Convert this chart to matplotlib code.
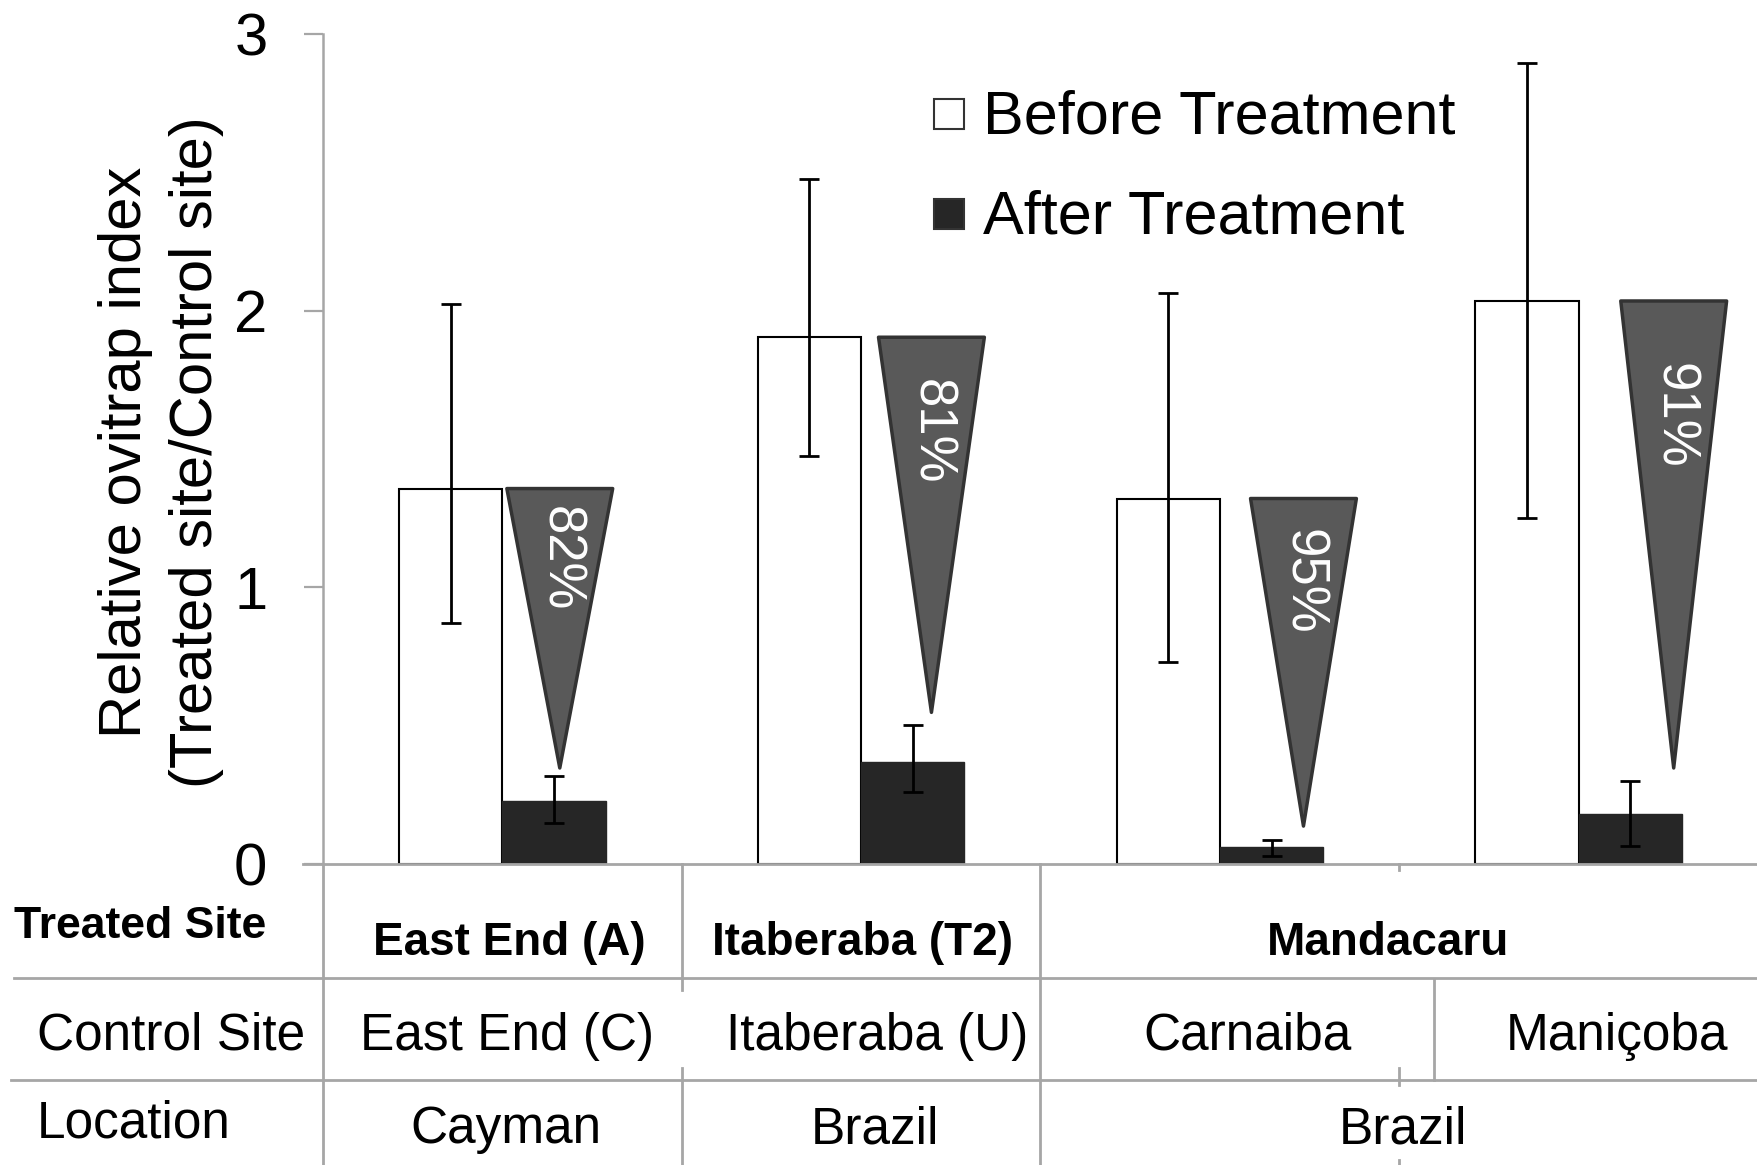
import matplotlib
matplotlib.use("Agg")
import matplotlib.pyplot as plt
from matplotlib.patches import Polygon, Rectangle
import numpy as np

plt.rcParams["font.family"] = ["Liberation Sans", "DejaVu Sans"]

# values
sites = ["East End (A)", "Itaberaba (T2)", "Mandacaru", "Mandacaru"]
before = [1.357, 1.904, 1.321, 2.035]
before_hi = [2.025, 2.476, 2.064, 2.896]
before_lo = [0.870, 1.474, 0.730, 1.250]
after = [0.229, 0.370, 0.060, 0.181]
after_hi = [0.318, 0.501, 0.087, 0.300]
after_lo = [0.149, 0.261, 0.029, 0.066]
reduction = ["82%", "81%", "95%", "91%"]

treated_labels = ["East End (A)", "Itaberaba (T2)", "Mandacaru"]
control_labels = ["East End (C)", "Itaberaba (U)", "Carnaiba", "Maniçoba"]
location_labels = ["Cayman", "Brazil", "Brazil"]
yticks = [0, 1, 2, 3]

# hand-placed triangle callouts (centre x, apex y, label y)
tri_x = [0.160, 1.196, 2.233, 3.265]
tri_apex = [0.347, 0.548, 0.137, 0.347]
tri_text_y = [1.102, 1.561, 1.019, 1.619]

W, H = 1758, 1165
fig = plt.figure(figsize=(W / 100, H / 100), dpi=100)
ax = fig.add_axes([323 / W, 1 - 864 / H, 1435 / W, 830 / H])

x = np.arange(len(before))
w = 0.288
grey = "#a6a6a6"

ax.bar(x - w / 2, before, w, color="white", edgecolor="black", linewidth=1.5, zorder=2)
ax.bar(x + w / 2, after, w, color="#262626", edgecolor="#262626", linewidth=1, zorder=2)

b_err = [np.array(before) - np.array(before_lo), np.array(before_hi) - np.array(before)]
a_err = [np.array(after) - np.array(after_lo), np.array(after_hi) - np.array(after)]
ax.errorbar(x - w / 2, before, yerr=b_err, fmt="none", ecolor="black",
            elinewidth=2, capsize=7, capthick=2, zorder=3)
ax.errorbar(x + w / 2, after, yerr=a_err, fmt="none", ecolor="black",
            elinewidth=2, capsize=7, capthick=2, zorder=3)

# reduction triangles
tw = 0.295
for i in range(len(before)):
    cx = tri_x[i]
    pts = [(cx - tw / 2, before[i]), (cx + tw / 2, before[i]), (cx, tri_apex[i])]
    ax.add_patch(Polygon(pts, closed=True, facecolor="#595959", edgecolor="#333333",
                         linewidth=2.5, joinstyle="round", zorder=4))
    ax.text(cx, tri_text_y[i], reduction[i], rotation=-90, ha="center", va="center",
            color="white", fontsize=38, zorder=5)

ax.set_xlim(-0.5, 3.5)
ax.set_ylim(0, 3)
ax.set_yticks(yticks)
ax.tick_params(axis="y", labelsize=43, length=14, width=1.6, color=grey, pad=26)
ax.set_xticks([])
for s in ["top", "right", "bottom"]:
    ax.spines[s].set_visible(False)
ax.spines["left"].set_color(grey)
ax.spines["left"].set_linewidth(1.8)

# x axis line, starting at the tick end
ax.plot([-0.014, 1.0], [0, 0], transform=ax.get_yaxis_transform(), color=grey,
        linewidth=2, clip_on=False, zorder=6)

# legend
for yb, fc, lab in [(0.8855, "white", "Before Treatment"), (0.7651, "#262626", "After Treatment")]:
    ax.add_patch(Rectangle((0.4258, yb), 0.0209, 0.0362, transform=ax.transAxes,
                           facecolor=fc, edgecolor="#333333", linewidth=1.5, zorder=6))
    ax.text(0.4599, yb - 0.005, lab, transform=ax.transAxes, fontsize=44,
            ha="left", va="baseline")

fig.text(161 / W, 1 - 452 / H, "Relative ovitrap index\n(Treated site/Control site)",
         rotation=90, ha="center", va="center", multialignment="center",
         fontsize=43, linespacing=1.36)

# table under the axis
tr = ax.get_xaxis_transform()


def ay(py):
    return (864 - py) / 830


def vline(xd, y0, y1):
    ax.plot([xd, xd], [ay(y0), ay(y1)], transform=tr, color=grey, linewidth=2,
            clip_on=False)


ax.plot([-1.36, 3.5], [ay(978), ay(978)], transform=tr, color=grey, linewidth=2, clip_on=False)
ax.plot([-1.37, 3.5], [ay(1080), ay(1080)], transform=tr, color=grey, linewidth=2, clip_on=False)
vline(-0.5, 864, 1165)
vline(0.5, 864, 990)
vline(0.5, 1068, 1165)
vline(1.5, 864, 1165)
vline(2.5, 864, 870)
vline(2.5, 1068, 1085)
vline(2.5, 1160, 1165)
vline(2.597, 979, 1080)

treated_x = [0.018, 1.005, 2.469]
control_x = [0.013, 1.044, 2.078, 3.107]
location_x = [0.01, 1.04, 2.51]

for xd, lab in zip(treated_x, treated_labels):
    ax.text(xd, ay(955), lab, transform=tr, ha="center", va="baseline",
            fontsize=33, fontweight="bold")
for xd, lab in zip(control_x, control_labels):
    ax.text(xd, ay(1050), lab, transform=tr, ha="center", va="baseline", fontsize=37)
for xd, lab in zip(location_x, location_labels):
    ax.text(xd, ay(1143), lab, transform=tr, ha="center", va="baseline", fontsize=37)

fig.text(14 / W, 1 - 938 / H, "Treated Site", ha="left", va="baseline",
         fontsize=32, fontweight="bold")
fig.text(37 / W, 1 - 1050 / H, "Control Site", ha="left", va="baseline", fontsize=37)
fig.text(37 / W, 1 - 1138 / H, "Location", ha="left", va="baseline", fontsize=37)

fig.savefig("out.png", dpi=100)
